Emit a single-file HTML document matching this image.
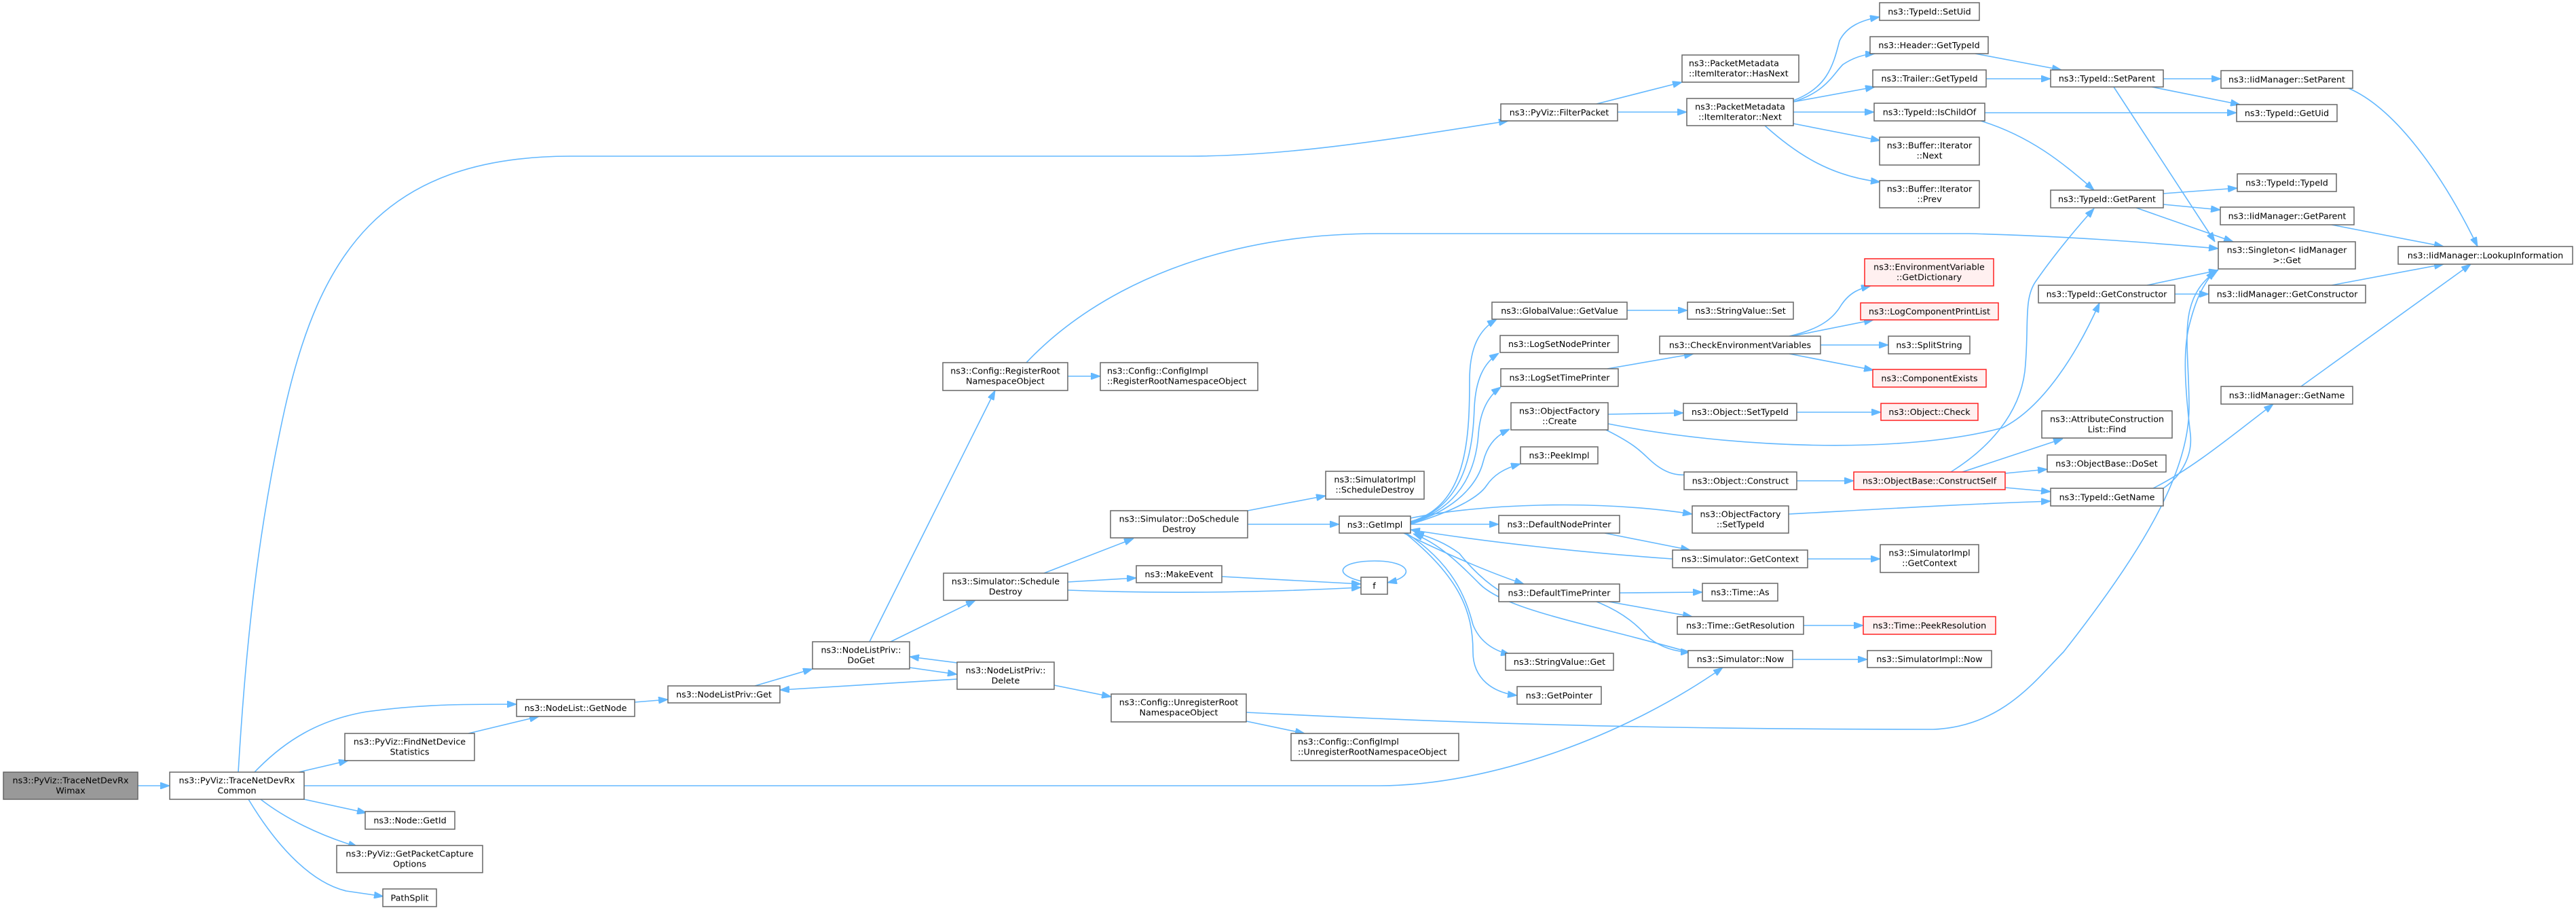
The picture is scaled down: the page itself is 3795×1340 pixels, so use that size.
<!DOCTYPE html>
<html><head><meta charset="utf-8"><style>
html,body{margin:0;padding:0;background:#fff;}
svg{display:block;}
text{font-family:"DejaVu Sans","Liberation Sans",Helvetica,Arial,sans-serif;font-size:12.7px;fill:#000;}
.n{fill:#fff;stroke:#666;stroke-width:1.5;}
.r{fill:#fff0f0;stroke:#f22;stroke-width:1.5;}
.g{fill:#999;stroke:#666;stroke-width:1.5;}
.e{fill:none;stroke:#63b8ff;stroke-width:1.6;marker-end:url(#a);}
.c{text-anchor:middle;}
</style></head><body>
<svg width="3795" height="1340" viewBox="0 0 3795 1340" xmlns="http://www.w3.org/2000/svg">
<defs><marker id="a" markerUnits="userSpaceOnUse" markerWidth="14" markerHeight="10" refX="14" refY="5" orient="auto" viewBox="0 0 14 10"><path d="M0,0 L14,5 L0,10 z" fill="#63b8ff" stroke="#63b8ff" stroke-width="1"/></marker></defs>
<rect width="3795" height="1340" fill="#fff"/>
<g>
<path class="e" d="M203,1157 L250,1157"/>
<path class="e" d="M351,1137 C362,950 380,780 420,600 C470,380 560,230 840,230 L1750,230 C1900,230 2050,205 2222,178"/>
<path class="e" d="M375,1137 C420,1090 470,1060 540,1048 C620,1037 680,1037 761,1037"/>
<path class="e" d="M440,1137 L513,1120"/>
<path class="e" d="M690,1080 L794,1055"/>
<path class="e" d="M448,1157 L2030,1157 C2200,1157 2400,1080 2538,983"/>
<path class="e" d="M448,1177 L540,1197"/>
<path class="e" d="M384,1177 C420,1205 470,1230 527,1247"/>
<path class="e" d="M366,1177 C410,1250 460,1300 510,1312 L565,1320"/>
<path class="e" d="M935,1034 L984,1030"/>
<path class="e" d="M1112,1010 L1197,985"/>
<path class="e" d="M1410,1000 L1149,1016"/>
<path class="e" d="M1340,983 L1410,993"/>
<path class="e" d="M1410,976 L1340,967"/>
<path class="e" d="M1281,945 L1466,575"/>
<path class="e" d="M1312,945 L1437,884"/>
<path class="e" d="M1553,1009 L1637,1026"/>
<path class="e" d="M1538,844 L1670,793"/>
<path class="e" d="M1573,857 L1674,851"/>
<path class="e" d="M1573,869 C1700,874 1850,873 2005,865"/>
<path class="e" d="M1800,849 L2005,860"/>
<path class="e" d="M2006,856 C1960,845 1975,826 2025,826 C2077,826 2088,848 2044,858"/>
<path class="e" d="M1838,752 L1953,730"/>
<path class="e" d="M1838,772 L1973,772"/>
<path class="e" d="M1573,554 L1621,554"/>
<path class="e" d="M1512,534 C1620,420 1800,344 2030,344 L2900,344 C3050,348 3150,356 3268,366"/>
<path class="e" d="M1836,1062 L1922,1080"/>
<path class="e" d="M1836,1049 C2000,1057 2300,1074 2848,1074 C2950,1070 3000,1000 3040,960 C3150,820 3225,700 3225,600 C3225,500 3205,440 3268,397"/>
<path class="e" d="M2078,768 C2160,745 2165,650 2165,560 C2165,510 2180,485 2205,470"/>
<path class="e" d="M2078,769 C2160,745 2170,660 2172,600 C2174,560 2185,535 2208,520"/>
<path class="e" d="M2078,770 C2160,745 2175,680 2178,640 C2180,610 2190,585 2211,570"/>
<path class="e" d="M2078,771 C2160,745 2180,700 2185,680 C2190,660 2200,643 2224,632"/>
<path class="e" d="M2078,772 C2150,750 2180,730 2190,715 C2200,700 2215,690 2240,683"/>
<path class="e" d="M2078,763 C2180,742 2350,735 2493,757"/>
<path class="e" d="M2078,772 L2208,772"/>
<path class="e" d="M2464,823 C2350,815 2200,800 2078,780"/>
<path class="e" d="M2364,785 L2490,810"/>
<path class="e" d="M2068,785 C2140,820 2200,845 2245,860"/>
<path class="e" d="M2487,960 C2350,920 2220,900 2180,860 C2150,830 2120,800 2082,786"/>
<path class="e" d="M2240,886 C2200,870 2170,840 2150,815 C2130,800 2110,792 2084,784"/>
<path class="e" d="M2072,785 C2140,830 2160,880 2170,920 C2180,945 2200,958 2225,964"/>
<path class="e" d="M2070,785 C2150,850 2170,900 2170,960 C2170,1000 2200,1020 2235,1024"/>
<path class="e" d="M2386,873 L2508,872"/>
<path class="e" d="M2370,886 L2493,908"/>
<path class="e" d="M2352,886 C2400,905 2420,930 2430,940 C2450,955 2470,960 2490,960"/>
<path class="e" d="M2657,921 L2745,921"/>
<path class="e" d="M2641,971 L2751,971"/>
<path class="e" d="M2663,823 L2770,823"/>
<path class="e" d="M2397,457 L2486,457"/>
<path class="e" d="M2368,543 L2495,521"/>
<path class="e" d="M2636,495 C2680,485 2700,470 2712,450 C2725,430 2740,425 2756,421"/>
<path class="e" d="M2640,495 L2760,471"/>
<path class="e" d="M2682,508 L2782,508"/>
<path class="e" d="M2636,521 L2760,545"/>
<path class="e" d="M2369,610 L2480,608"/>
<path class="e" d="M2366,633 C2420,660 2420,670 2440,685 C2460,700 2480,703 2500,695"/>
<path class="e" d="M2647,607 L2771,607"/>
<path class="e" d="M2647,708 L2731,708"/>
<path class="e" d="M2369,624 C2550,660 2800,670 2950,630 C3010,600 3060,520 3093,446"/>
<path class="e" d="M2874,695 C2930,660 2975,610 2983,547 C2990,480 2980,440 3000,413 C3030,370 3060,335 3085,307"/>
<path class="e" d="M2891,695 L3039,646"/>
<path class="e" d="M2954,697 L3016,691"/>
<path class="e" d="M2954,718 L3021,724"/>
<path class="e" d="M2635,757 C2800,748 2900,742 3021,738"/>
<path class="e" d="M3172,719 C3230,690 3290,640 3349,595"/>
<path class="e" d="M3187,719 C3215,700 3230,670 3227,640 C3220,580 3215,520 3225,480 C3235,440 3245,420 3263,398"/>
<path class="e" d="M3114,128 L3263,356"/>
<path class="e" d="M3147,306 L3290,356"/>
<path class="e" d="M3163,420 L3268,398"/>
<path class="e" d="M2918,178 C2990,200 3040,240 3085,280"/>
<path class="e" d="M2924,166 L3295,166"/>
<path class="e" d="M2910,79 L3037,103"/>
<path class="e" d="M2926,116 L3021,116"/>
<path class="e" d="M3187,116 L3272,116"/>
<path class="e" d="M3170,128 L3300,154"/>
<path class="e" d="M3460,130 C3530,160 3600,260 3650,363"/>
<path class="e" d="M3187,285 L3296,277"/>
<path class="e" d="M3187,301 L3271,309"/>
<path class="e" d="M3435,331 L3600,363"/>
<path class="e" d="M3204,433 L3254,433"/>
<path class="e" d="M3435,420 L3600,389"/>
<path class="e" d="M3390,569 L3640,389"/>
<path class="e" d="M2642,148 C2690,130 2700,100 2710,60 C2720,40 2740,30 2769,25"/>
<path class="e" d="M2642,150 C2690,135 2700,110 2715,95 C2730,85 2745,80 2762,79"/>
<path class="e" d="M2642,150 L2762,128"/>
<path class="e" d="M2642,165 L2761,165"/>
<path class="e" d="M2642,182 L2770,207"/>
<path class="e" d="M2600,185 C2650,230 2700,260 2770,268"/>
<path class="e" d="M2352,153 L2478,121"/>
<path class="e" d="M2383,165 L2485,165"/>
</g>
<g>
<rect class="g" x="5" y="1137" width="198" height="40"/><text class="c" x="104" y="1153.5">ns3::PyViz::TraceNetDevRx</text><text class="c" x="104" y="1168.5">Wimax</text>
<rect class="n" x="250" y="1137" width="198" height="40"/><text class="c" x="349" y="1153.5">ns3::PyViz::TraceNetDevRx</text><text class="c" x="349" y="1168.5">Common</text>
<rect class="n" x="508" y="1080" width="191" height="40"/><text class="c" x="603.5" y="1096.5">ns3::PyViz::FindNetDevice</text><text class="c" x="603.5" y="1111.5">Statistics</text>
<rect class="n" x="538" y="1195" width="132" height="26"/><text class="c" x="604" y="1212.5">ns3::Node::GetId</text>
<rect class="n" x="496" y="1245" width="215" height="40"/><text class="c" x="603.5" y="1261.5">ns3::PyViz::GetPacketCapture</text><text class="c" x="603.5" y="1276.5">Options</text>
<rect class="n" x="564" y="1309" width="79" height="26"/><text class="c" x="603.5" y="1326.5">PathSplit</text>
<rect class="n" x="761" y="1030" width="174" height="25"/><text class="c" x="848" y="1047">ns3::NodeList::GetNode</text>
<rect class="n" x="984" y="1010" width="165" height="25"/><text class="c" x="1066.5" y="1027">ns3::NodeListPriv::Get</text>
<rect class="n" x="1197" y="945" width="143" height="40"/><text class="c" x="1268.5" y="961.5">ns3::NodeListPriv::</text><text class="c" x="1268.5" y="976.5">DoGet</text>
<rect class="n" x="1410" y="975" width="143" height="40"/><text class="c" x="1481.5" y="991.5">ns3::NodeListPriv::</text><text class="c" x="1481.5" y="1006.5">Delete</text>
<rect class="n" x="1390" y="844" width="183" height="40"/><text class="c" x="1481.5" y="860.5">ns3::Simulator::Schedule</text><text class="c" x="1481.5" y="875.5">Destroy</text>
<rect class="n" x="1389" y="534" width="184" height="41"/><text class="c" x="1481" y="550.5">ns3::Config::RegisterRoot</text><text class="c" x="1481" y="565.5">NamespaceObject</text>
<rect class="n" x="1621" y="534" width="232" height="41"/><text x="1631" y="550.5">ns3::Config::ConfigImpl</text><text x="1631" y="565.5">::RegisterRootNamespaceObject</text>
<rect class="n" x="1637" y="1022" width="199" height="41"/><text class="c" x="1736.5" y="1038.5">ns3::Config::UnregisterRoot</text><text class="c" x="1736.5" y="1053.5">NamespaceObject</text>
<rect class="n" x="1902" y="1080" width="247" height="40"/><text x="1912" y="1096.5">ns3::Config::ConfigImpl</text><text x="1912" y="1111.5">::UnregisterRootNamespaceObject</text>
<rect class="n" x="1636" y="752" width="202" height="40"/><text class="c" x="1737" y="768.5">ns3::Simulator::DoSchedule</text><text class="c" x="1737" y="783.5">Destroy</text>
<rect class="n" x="1953" y="694" width="145" height="41"/><text class="c" x="2025.5" y="710.5">ns3::SimulatorImpl</text><text class="c" x="2025.5" y="725.5">::ScheduleDestroy</text>
<rect class="n" x="1973" y="760" width="105" height="25"/><text class="c" x="2025.5" y="777">ns3::GetImpl</text>
<rect class="n" x="1674" y="833" width="126" height="25"/><text class="c" x="1737" y="850">ns3::MakeEvent</text>
<rect class="n" x="2005" y="850" width="39" height="25"/><text class="c" x="2024.5" y="867">f</text>
<rect class="n" x="2211" y="153" width="172" height="25"/><text class="c" x="2297" y="170">ns3::PyViz::FilterPacket</text>
<rect class="n" x="2478" y="81" width="172" height="40"/><text x="2488" y="97.5">ns3::PacketMetadata</text><text x="2488" y="112.5">::ItemIterator::HasNext</text>
<rect class="n" x="2485" y="145" width="157" height="40"/><text class="c" x="2563.5" y="161.5">ns3::PacketMetadata</text><text class="c" x="2563.5" y="176.5">::ItemIterator::Next</text>
<rect class="n" x="2769" y="4" width="147" height="26"/><text class="c" x="2842.5" y="21.5">ns3::TypeId::SetUid</text>
<rect class="n" x="2755" y="54" width="174" height="25"/><text class="c" x="2842" y="71">ns3::Header::GetTypeId</text>
<rect class="n" x="2759" y="103" width="167" height="25"/><text class="c" x="2842.5" y="120">ns3::Trailer::GetTypeId</text>
<rect class="n" x="2761" y="152" width="163" height="26"/><text class="c" x="2842.5" y="169.5">ns3::TypeId::IsChildOf</text>
<rect class="n" x="2769" y="202" width="147" height="41"/><text class="c" x="2842.5" y="218.5">ns3::Buffer::Iterator</text><text class="c" x="2842.5" y="233.5">::Next</text>
<rect class="n" x="2769" y="266" width="147" height="40"/><text class="c" x="2842.5" y="282.5">ns3::Buffer::Iterator</text><text class="c" x="2842.5" y="297.5">::Prev</text>
<rect class="n" x="3021" y="103" width="166" height="25"/><text class="c" x="3104" y="120">ns3::TypeId::SetParent</text>
<rect class="n" x="3272" y="104" width="194" height="26"/><text class="c" x="3369" y="121.5">ns3::IidManager::SetParent</text>
<rect class="n" x="3295" y="154" width="148" height="25"/><text class="c" x="3369" y="171">ns3::TypeId::GetUid</text>
<rect class="n" x="3296" y="256" width="146" height="26"/><text class="c" x="3369" y="273.5">ns3::TypeId::TypeId</text>
<rect class="n" x="3021" y="280" width="166" height="26"/><text class="c" x="3104" y="297.5">ns3::TypeId::GetParent</text>
<rect class="n" x="3271" y="305" width="197" height="26"/><text class="c" x="3369.5" y="322.5">ns3::IidManager::GetParent</text>
<rect class="n" x="3268" y="356" width="202" height="40"/><text class="c" x="3369" y="372.5">ns3::Singleton&lt; IidManager</text><text class="c" x="3369" y="387.5">&gt;::Get</text>
<rect class="n" x="3533" y="363" width="257" height="26"/><text class="c" x="3661.5" y="380.5">ns3::IidManager::LookupInformation</text>
<rect class="n" x="3003" y="420" width="201" height="26"/><text class="c" x="3103.5" y="437.5">ns3::TypeId::GetConstructor</text>
<rect class="n" x="3254" y="420" width="231" height="26"/><text class="c" x="3369.5" y="437.5">ns3::IidManager::GetConstructor</text>
<rect class="n" x="3272" y="569" width="194" height="26"/><text class="c" x="3369" y="586.5">ns3::IidManager::GetName</text>
<rect class="n" x="3008" y="605" width="192" height="40"/><text class="c" x="3104" y="621.5">ns3::AttributeConstruction</text><text class="c" x="3104" y="636.5">List::Find</text>
<rect class="n" x="3016" y="670" width="175" height="25"/><text class="c" x="3103.5" y="687">ns3::ObjectBase::DoSet</text>
<rect class="n" x="3021" y="719" width="166" height="26"/><text class="c" x="3104" y="736.5">ns3::TypeId::GetName</text>
<rect class="r" x="2747" y="381" width="190" height="40"/><text class="c" x="2842" y="397.5">ns3::EnvironmentVariable</text><text class="c" x="2842" y="412.5">::GetDictionary</text>
<rect class="r" x="2741" y="446" width="203" height="25"/><text class="c" x="2842.5" y="463">ns3::LogComponentPrintList</text>
<rect class="n" x="2198" y="445" width="199" height="25"/><text class="c" x="2297.5" y="462">ns3::GlobalValue::GetValue</text>
<rect class="n" x="2486" y="445" width="156" height="25"/><text class="c" x="2564" y="462">ns3::StringValue::Set</text>
<rect class="n" x="2210" y="494" width="174" height="25"/><text class="c" x="2297" y="511">ns3::LogSetNodePrinter</text>
<rect class="n" x="2445" y="495" width="237" height="26"/><text class="c" x="2563.5" y="512.5">ns3::CheckEnvironmentVariables</text>
<rect class="n" x="2782" y="495" width="120" height="26"/><text class="c" x="2842" y="512.5">ns3::SplitString</text>
<rect class="n" x="2211" y="543" width="173" height="26"/><text class="c" x="2297.5" y="560.5">ns3::LogSetTimePrinter</text>
<rect class="r" x="2759" y="544" width="167" height="26"/><text class="c" x="2842.5" y="561.5">ns3::ComponentExists</text>
<rect class="n" x="2226" y="593" width="143" height="40"/><text class="c" x="2297.5" y="609.5">ns3::ObjectFactory</text><text class="c" x="2297.5" y="624.5">::Create</text>
<rect class="n" x="2480" y="594" width="167" height="25"/><text class="c" x="2563.5" y="611">ns3::Object::SetTypeId</text>
<rect class="r" x="2771" y="594" width="143" height="25"/><text class="c" x="2842.5" y="611">ns3::Object::Check</text>
<rect class="n" x="2240" y="658" width="114" height="25"/><text class="c" x="2297" y="675">ns3::PeekImpl</text>
<rect class="n" x="2481" y="695" width="166" height="26"/><text class="c" x="2564" y="712.5">ns3::Object::Construct</text>
<rect class="r" x="2731" y="695" width="223" height="26"/><text class="c" x="2842.5" y="712.5">ns3::ObjectBase::ConstructSelf</text>
<rect class="n" x="2493" y="745" width="142" height="40"/><text class="c" x="2564" y="761.5">ns3::ObjectFactory</text><text class="c" x="2564" y="776.5">::SetTypeId</text>
<rect class="n" x="2208" y="759" width="178" height="26"/><text class="c" x="2297" y="776.5">ns3::DefaultNodePrinter</text>
<rect class="n" x="2464" y="810" width="199" height="26"/><text class="c" x="2563.5" y="827.5">ns3::Simulator::GetContext</text>
<rect class="n" x="2770" y="802" width="145" height="41"/><text class="c" x="2842.5" y="818.5">ns3::SimulatorImpl</text><text class="c" x="2842.5" y="833.5">::GetContext</text>
<rect class="n" x="2208" y="860" width="178" height="26"/><text class="c" x="2297" y="877.5">ns3::DefaultTimePrinter</text>
<rect class="n" x="2508" y="859" width="111" height="26"/><text class="c" x="2563.5" y="876.5">ns3::Time::As</text>
<rect class="n" x="2471" y="908" width="186" height="26"/><text class="c" x="2564" y="925.5">ns3::Time::GetResolution</text>
<rect class="r" x="2745" y="908" width="195" height="26"/><text class="c" x="2842.5" y="925.5">ns3::Time::PeekResolution</text>
<rect class="n" x="2218" y="962" width="159" height="25"/><text class="c" x="2297.5" y="979">ns3::StringValue::Get</text>
<rect class="n" x="2487" y="958" width="154" height="25"/><text class="c" x="2564" y="975">ns3::Simulator::Now</text>
<rect class="n" x="2751" y="958" width="183" height="25"/><text class="c" x="2842.5" y="975">ns3::SimulatorImpl::Now</text>
<rect class="n" x="2235" y="1011" width="124" height="26"/><text class="c" x="2297" y="1028.5">ns3::GetPointer</text>
</g>
</svg>
</body></html>
